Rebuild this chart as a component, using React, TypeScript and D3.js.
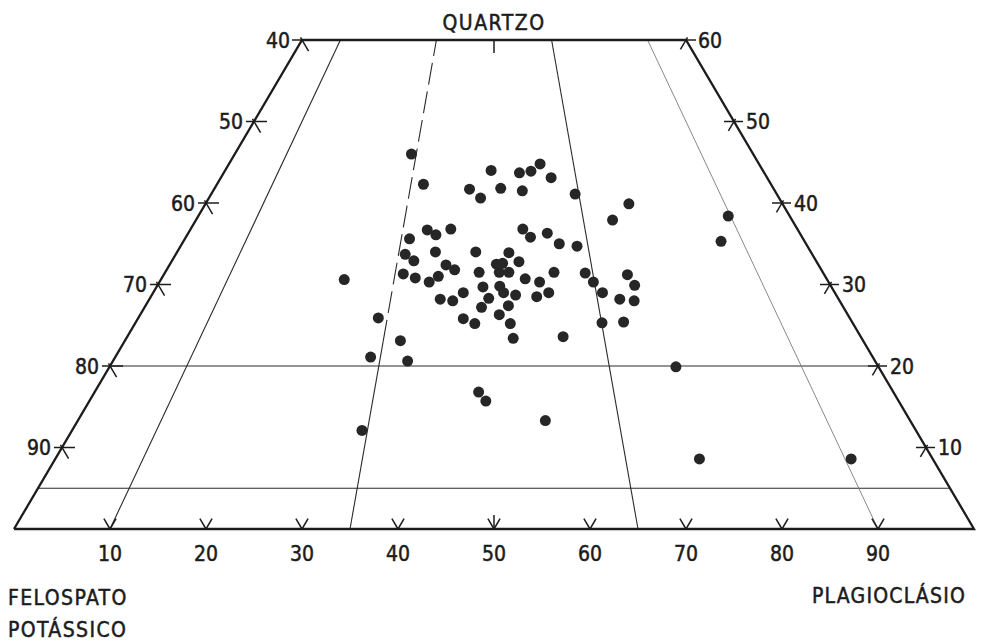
import React from 'react';
import * as d3 from 'd3';

const W = 981;
const H = 642;

// amostras, % de quartzo (Q) e plagioclásio (P); feldspato potássico = 100 - Q - P
const quartzo = [
  46.0, 42.3, 41.7, 40.6, 44.0, 41.8, 43.7, 43.9, 44.8, 43.1,
  41.5, 41.1, 39.9, 37.9, 38.4, 35.3, 36.7, 36.1, 36.8, 35.6,
  34.0, 34.0, 33.7, 33.9, 36.8, 35.8, 36.3, 35.0, 34.7, 31.2,
  29.9, 29.0, 28.2, 28.0, 25.3, 25.4, 19.9, 8.6, 8.6, 32.9,
  30.6, 31.3, 30.8, 30.3, 31.0, 32.4, 31.8, 31.5, 32.5, 32.6,
  31.5, 31.5, 32.8, 30.7, 30.3, 31.5, 29.7, 29.8, 29.0, 28.7,
  28.3, 29.0, 28.0, 28.2, 27.2, 27.4, 26.3, 28.5, 29.0, 25.8,
  25.2, 25.2, 23.4, 23.6, 31.4, 30.3, 25.9, 23.1, 21.1, 20.6,
  16.8, 15.7, 13.3, 12.1,
];
const plagioclasio = [
  18.4, 21.5, 26.6, 28.3, 27.7, 29.8, 30.8, 31.9, 32.4, 34.4,
  32.2, 37.9, 44.1, 43.4, 55.2, 56.0, 24.7, 25.9, 27.1, 23.4,
  26.9, 31.1, 23.9, 34.6, 34.6, 35.9, 37.4, 39.3, 41.3, 48.3,
  49.7, 46.8, 49.0, 50.6, 48.6, 50.8, 59.0, 67.1, 82.9, 25.2,
  19.1, 24.9, 26.4, 28.1, 28.7, 28.8, 30.0, 32.7, 34.0, 34.6,
  34.8, 35.8, 36.2, 37.9, 39.6, 40.5, 34.0, 35.7, 36.5, 37.9,
  35.3, 32.3, 31.7, 30.3, 35.1, 37.8, 37.4, 40.2, 41.2, 33.9,
  35.4, 39.1, 40.3, 45.4, 43.8, 45.2, 25.0, 28.7, 26.6, 30.7,
  40.0, 41.3, 48.7, 30.2,
];

const baseTicks = [10, 20, 30, 40, 50, 60, 70, 80, 90]; // P/(A+P)
const leftTicks = [40, 50, 60, 70, 80, 90]; // A+P
const rightTicks = [60, 50, 40, 30, 20, 10]; // Q
const campos = [10, 35, 65, 90]; // divisões P/(A+P)
const niveisQ = [5, 20];
const Q_TOPO = 60;

const FONT = "'Liberation Sans Narrow', 'DejaVu Sans Condensed', sans-serif";
const INK = '#1c1c1c';
const txt = { fontFamily: FONT, fontSize: 21, fill: INK, stroke: INK, strokeWidth: 0.5 };

const App = () => {
  const x = d3.scaleLinear().domain([0, 100]).range([14, 974]);
  const y = d3.scaleLinear().domain([0, Q_TOPO]).range([529, 40]);
  const proj = (q: number, p: number): [number, number] => [x(p + q / 2), y(q)];
  const line = d3.line<[number, number]>();

  // direções dos lados (para as marcas)
  const [lx0, ly0] = proj(0, 0);
  const [lx1, ly1] = proj(Q_TOPO, 0);
  const ll = Math.hypot(lx1 - lx0, ly1 - ly0);
  const dL = [(lx1 - lx0) / ll, (ly1 - ly0) / ll]; // sobe para direita
  const [rx0, ry0] = proj(0, 100);
  const [rx1, ry1] = proj(Q_TOPO, 100 - Q_TOPO);
  const rl = Math.hypot(rx1 - rx0, ry1 - ry0);
  const dR = [(rx1 - rx0) / rl, (ry1 - ry0) / rl]; // sobe para esquerda

  const contorno = line([
    proj(0, 0), proj(Q_TOPO, 0), proj(Q_TOPO, 100 - Q_TOPO), proj(0, 100), proj(0, 0),
  ]);

  const radial = (r: number, q0: number, q1: number) =>
    line([proj(q0, (r / 100) * (100 - q0)), proj(q1, (r / 100) * (100 - q1))]);

  const pontos = quartzo.map((q, i) => proj(q, plagioclasio[i]));

  return (
    <svg width={W} height={H} style={{ position: 'absolute', left: 0, top: 0, background: '#fff' }}>
      <rect width={W} height={H} fill="#fff" />

      {/* linhas de Q constante */}
      {niveisQ.map(q => (
        <path key={'q' + q} d={line([proj(q, 0), proj(q, 100 - q)]) as string}
          stroke="#2a2a2a" strokeWidth={1.1} fill="none" />
      ))}

      {/* divisões radiais */}
      {campos.map(r => r === 35 ? (
        <g key={'r' + r}>
          <path d={radial(r, 0, 23) as string} stroke="#2a2a2a" strokeWidth={1.1} fill="none" />
          <path d={radial(r, 23, Q_TOPO) as string} stroke="#2a2a2a" strokeWidth={1.1}
            strokeDasharray="22 7" fill="none" />
        </g>
      ) : (
        <path key={'r' + r} d={radial(r, 0, Q_TOPO) as string}
          stroke={r === 90 ? '#7a7a7a' : '#2a2a2a'} strokeWidth={r === 90 ? 0.9 : 1.1} fill="none" />
      ))}

      {/* contorno */}
      <path d={contorno as string} stroke={INK} strokeWidth={2.3} fill="none" strokeLinejoin="miter" />

      {/* marcas da base */}
      {baseTicks.map(t => {
        const [bx, by] = proj(0, t);
        return (
          <g key={'b' + t} stroke={INK} strokeWidth={1.5}>
            <line x1={bx} y1={by} x2={bx + dR[0] * 12} y2={by + dR[1] * 12} />
            <line x1={bx} y1={by} x2={bx + dL[0] * 12} y2={by + dL[1] * 12} />
            {t === 50 && <line x1={bx} y1={by} x2={bx} y2={by - 14} />}
          </g>
        );
      })}
      {baseTicks.map(t => (
        <text key={'bl' + t} x={x(t)} y={561} textAnchor="middle" {...txt}>{t}</text>
      ))}

      {/* marcas do lado esquerdo (A+P) */}
      {leftTicks.map(t => {
        const q = 100 - t;
        const [px, py] = proj(q, 0);
        const topo = q === Q_TOPO;
        return (
          <g key={'l' + t}>
            <g stroke={INK} strokeWidth={1.5}>
              <line x1={px - (topo ? 10 : 8)} y1={py} x2={topo ? px : px + 13} y2={py} />
              <line x1={px + dR[0] * 3} y1={py + dR[1] * 3} x2={px - dR[0] * 13} y2={py - dR[1] * 13} />
            </g>
            <text x={px - (topo ? 12 : 11)} y={py} dy="0.36em" textAnchor="end" {...txt}>{t}</text>
          </g>
        );
      })}

      {/* marcas do lado direito (Q) */}
      {rightTicks.map(q => {
        const [px, py] = proj(q, 100 - q);
        const topo = q === Q_TOPO;
        return (
          <g key={'r' + q}>
            <g stroke={INK} strokeWidth={1.5}>
              <line x1={topo ? px : px - 10} y1={py} x2={px + (topo ? 10 : 9)} y2={py} />
              <line x1={px + dL[0] * 3} y1={py + dL[1] * 3} x2={px - dL[0] * 11} y2={py - dL[1] * 11} />
            </g>
            <text x={px + 12} y={py} dy="0.36em" textAnchor="start" {...txt}>{q}</text>
          </g>
        );
      })}

      {/* marca do topo */}
      {(() => {
        const [tx, ty] = proj(Q_TOPO, (100 - Q_TOPO) / 2);
        return <line x1={tx} y1={ty} x2={tx} y2={ty + 13} stroke={INK} strokeWidth={1.5} />;
      })()}

      {/* amostras */}
      {pontos.map(([cx, cy], i) => (
        <circle key={i} cx={cx} cy={cy} r={5.5} fill="#262626" />
      ))}

      {/* títulos */}
      <text x={x(50)} y={30} textAnchor="middle" letterSpacing={1.5} {...txt}>QUARTZO</text>
      <text x={8} y={605} letterSpacing={1.4} {...txt}>FELOSPATO</text>
      <text x={8} y={637} letterSpacing={1.4} {...txt}>POTÁSSICO</text>
      <text x={966} y={603} textAnchor="end" letterSpacing={1.2} {...txt}>PLAGIOCLÁSIO</text>
    </svg>
  );
};

export default App;
